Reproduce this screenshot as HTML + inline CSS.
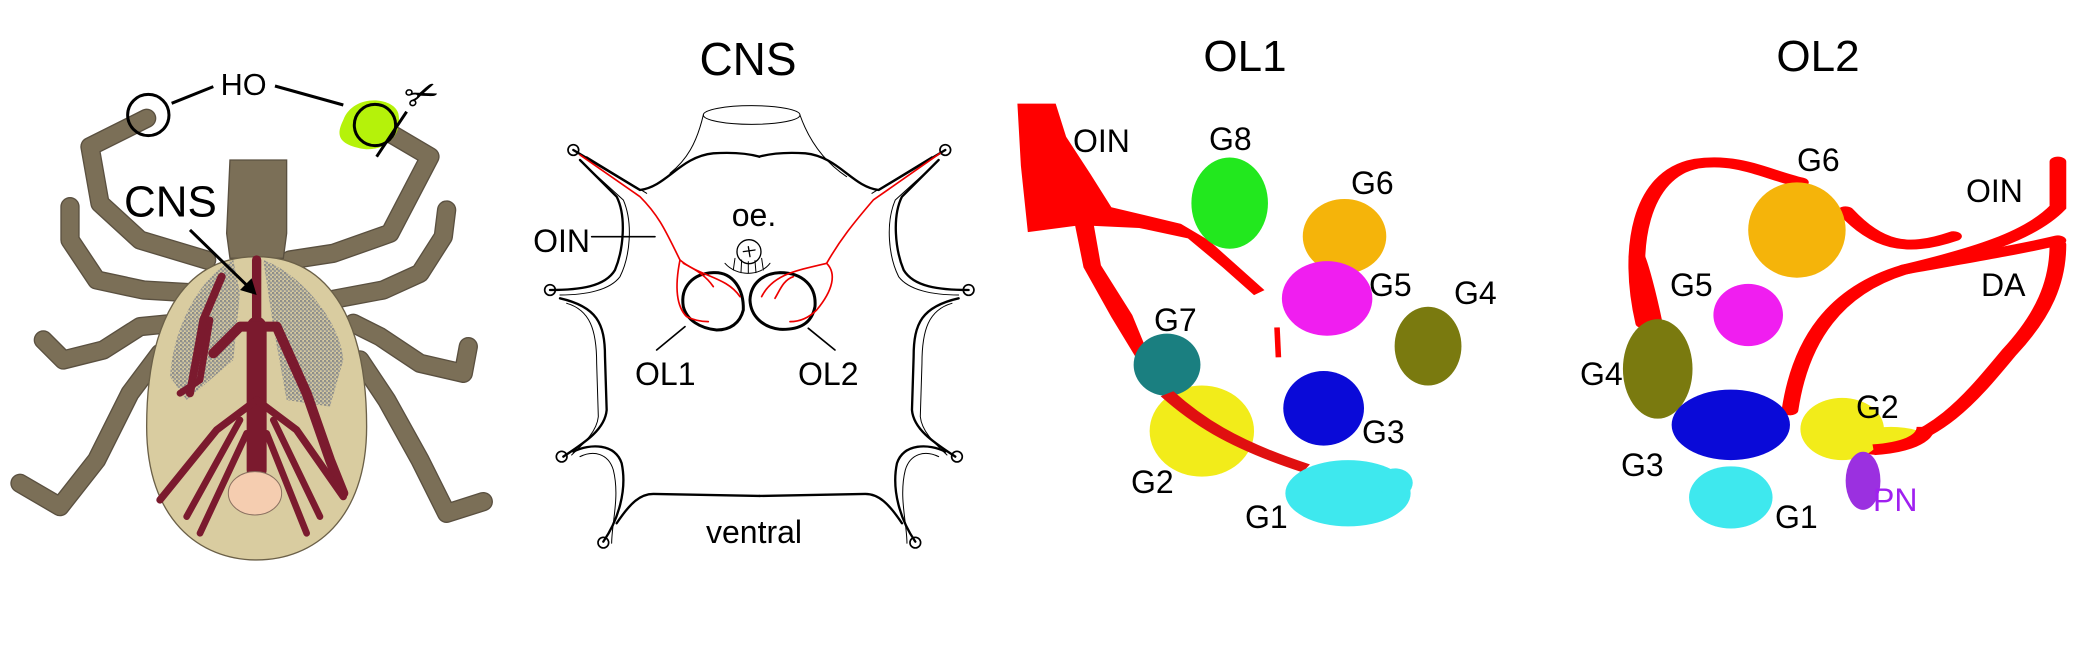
<!DOCTYPE html>
<html><head><meta charset="utf-8"><style>
html,body{margin:0;padding:0;background:#fff;}
svg{display:block;}
text{font-family:"Liberation Sans",sans-serif;fill:#000;}
</style></head><body>
<svg width="2091" height="650" viewBox="0 0 2091 650" xmlns="http://www.w3.org/2000/svg">
<defs>
<pattern id="dots" width="12" height="12" patternUnits="userSpaceOnUse">
<circle cx="3" cy="3" r="4" fill="#8e8e8a"/><circle cx="9" cy="9" r="4" fill="#9a9a95"/>
</pattern>
</defs>

<!-- TICK (zoom3 coords) -->
<g transform="translate(0,60) scale(0.3333)">
 <g fill="none" stroke-linecap="round" stroke-linejoin="round">
  <g stroke="#5a5040" stroke-width="58">
   <polyline points="620,600 420,540 300,430 270,260 440,175"/>
   <polyline points="870,600 1000,580 1170,520 1290,290 1120,190"/>
   <polyline points="600,700 430,690 290,660 210,540 210,440"/>
   <polyline points="990,720 1150,690 1260,640 1330,530 1340,450"/>
   <polyline points="520,790 420,800 310,870 190,900 130,840"/>
   <polyline points="1060,790 1140,830 1260,910 1390,940 1405,860"/>
   <polyline points="480,880 390,1000 290,1200 180,1340 60,1270"/>
   <polyline points="1080,900 1160,1020 1260,1200 1340,1360 1450,1325"/>
  </g>
  <g stroke="#7b6f57" stroke-width="50">
   <polyline points="620,600 420,540 300,430 270,260 440,175"/>
   <polyline points="870,600 1000,580 1170,520 1290,290 1120,190"/>
   <polyline points="600,700 430,690 290,660 210,540 210,440"/>
   <polyline points="990,720 1150,690 1260,640 1330,530 1340,450"/>
   <polyline points="520,790 420,800 310,870 190,900 130,840"/>
   <polyline points="1060,790 1140,830 1260,910 1390,940 1405,860"/>
   <polyline points="480,880 390,1000 290,1200 180,1340 60,1270"/>
   <polyline points="1080,900 1160,1020 1260,1200 1340,1360 1450,1325"/>
  </g>
 </g>
 <polygon points="690,300 860,300 860,520 850,595 690,595 680,520" fill="#7b6f57" stroke="#5a5040" stroke-width="4"/>
 <path d="M770,590 C1000,590 1100,800 1100,1100 C1100,1380 940,1500 770,1500 C600,1500 440,1380 440,1100 C440,800 540,590 770,590Z" fill="#d9cca0" stroke="#6b6048" stroke-width="4"/>
 <path d="M700,600 C600,650 520,800 510,950 L560,1020 L700,900 L720,700Z" fill="url(#dots)"/>
 <path d="M790,600 C900,640 1020,780 1030,900 L990,1040 L860,1020 L820,800Z" fill="url(#dots)"/>
 <g fill="none" stroke="#7b1a2e" stroke-linecap="round" stroke-linejoin="round">
  <path d="M770,600 L770,800" stroke-width="28"/>
  <path d="M770,800 L770,1230" stroke-width="60"/>
  <path d="M665,650 L610,780 L570,1000" stroke-width="24"/>
  <path d="M640,880 L720,800 L830,800 L920,1000 L990,1200 L1030,1300" stroke-width="30"/>
  <path d="M630,780 L600,960 L540,1000" stroke-width="20"/>
  <path d="M770,1020 L650,1110 L480,1320" stroke-width="22"/>
  <path d="M720,1080 L560,1370" stroke-width="20"/>
  <path d="M740,1120 L600,1420" stroke-width="20"/>
  <path d="M770,1020 L890,1110 L1030,1310" stroke-width="22"/>
  <path d="M820,1080 L960,1370" stroke-width="20"/>
  <path d="M800,1120 L920,1420" stroke-width="20"/>
 </g>
 <ellipse cx="765" cy="1300" rx="80" ry="65" fill="#f5cdb0" stroke="#8a7060" stroke-width="3"/>
 <path d="M1030,180 C1060,100 1180,110 1195,160 C1210,230 1150,280 1080,265 C1010,250 1010,220 1030,180Z" fill="#b5f20a"/>
 <circle cx="445" cy="165" r="62" fill="none" stroke="#000" stroke-width="9"/>
 <circle cx="1125" cy="195" r="62" fill="none" stroke="#000" stroke-width="9"/>
 <g stroke="#000" stroke-width="9" fill="none">
  <line x1="515" y1="130" x2="640" y2="80"/>
  <line x1="825" y1="78" x2="1030" y2="135"/>
  <line x1="1130" y1="290" x2="1220" y2="155"/>
  <line x1="570" y1="510" x2="755" y2="690"/>
 </g>
 <polygon points="770,705 720,690 755,655" fill="#000"/>
 <text x="662" y="105" font-size="92" style="font-family:'Liberation Sans',sans-serif">HO</text>
 <text x="372" y="470" font-size="132" style="font-family:'Liberation Sans',sans-serif">CNS</text>
 <text x="1215" y="140" font-size="120" style="font-family:'DejaVu Sans',sans-serif" transform="rotate(-20 1280 100)">✂</text>
</g>

<!-- CNS panel (zoom4 coords) -->
<text x="748" y="75" font-size="46" text-anchor="middle">CNS</text>
<g transform="translate(540,90) scale(0.3333)" fill="none" stroke="#000" stroke-linecap="round" stroke-linejoin="round">
 <ellipse cx="635" cy="75" rx="145" ry="28" stroke-width="3"/>
 <path d="M490,75 C470,160 440,210 390,250 M780,75 C810,160 860,220 920,260" stroke-width="3"/>
 <g id="half">
  <path d="M100,180 L300,300 C380,290 420,200 520,190 C600,185 640,195 658,200" stroke-width="7"/>
  <path d="M120,210 L230,320 C260,380 250,480 225,540 C195,590 120,600 30,600" stroke-width="7"/>
  <path d="M60,625 C170,650 195,700 195,800 L200,960 C195,1020 130,1060 70,1100" stroke-width="7"/>
  <path d="M100,1085 C150,1060 225,1060 245,1120 C262,1200 235,1290 190,1355" stroke-width="7"/>
  <path d="M230,1300 C270,1240 300,1212 340,1212 L658,1218" stroke-width="7"/>
  <path d="M140,200 L320,310 M140,230 L250,330 C280,400 270,500 240,560 C210,600 140,615 60,615 M80,640 C150,660 170,720 170,820 L175,980 C170,1030 120,1070 95,1095 M120,1100 C160,1080 205,1090 220,1140 C240,1220 215,1300 215,1360" stroke-width="3"/>
  <circle cx="100" cy="180" r="16" stroke-width="5"/>
  <circle cx="30" cy="600" r="16" stroke-width="5"/>
  <circle cx="65" cy="1100" r="16" stroke-width="5"/>
  <circle cx="190" cy="1358" r="16" stroke-width="5"/>
 </g>
 <use href="#half" transform="translate(1316,0) scale(-1,1)"/>
 <path d="M520,548 C580,545 612,600 610,660 C600,700 570,720 530,720 C480,715 440,690 430,650 C420,590 460,550 520,548Z" stroke-width="9"/>
 <path d="M720,548 C790,548 830,590 825,650 C815,700 780,720 720,718 C670,712 632,680 630,630 C632,580 670,550 720,548Z" stroke-width="9"/>
 <circle cx="627" cy="485" r="36" stroke-width="4"/>
 <path d="M610,485 L645,480 M625,470 L630,500" stroke-width="4"/>
 <path d="M555,520 C590,560 660,560 690,520 M585,505 L580,540 M605,510 L603,548 M625,515 L625,550 M645,512 L648,548 M665,505 L670,540" stroke-width="3"/>
 <g stroke="#e00" stroke-width="5">
  <path d="M120,195 L300,320 C360,380 380,430 420,510 C480,560 560,560 600,620"/>
  <path d="M420,510 C410,560 400,640 440,680 C460,690 480,695 505,695"/>
  <path d="M430,520 C470,540 500,560 520,590"/>
  <path d="M1200,190 L1000,330 C940,400 900,450 860,520 C780,540 700,550 665,620"/>
  <path d="M860,520 C890,550 880,600 830,660 C800,690 770,695 750,695"/>
  <path d="M760,560 C730,570 720,600 705,625"/>
 </g>
 <path d="M155,440 L345,440 M350,780 L435,710 M805,715 L885,780" stroke-width="5"/>
</g>
<text x="590" y="252" font-size="32" text-anchor="end">OIN</text>
<text x="754" y="226" font-size="32" text-anchor="middle">oe.</text>
<text x="635" y="385" font-size="32">OL1</text>
<text x="798" y="385" font-size="32">OL2</text>
<text x="754" y="543" font-size="32" text-anchor="middle">ventral</text>

<!-- OL panels (zoom2 coords, anisotropic) -->
<g transform="matrix(0.696,0,0,0.4145,1000,0)">
 <polygon points="25,250 80,250 95,330 130,420 160,500 260,540 300,580 340,640 380,700 365,712 320,645 270,575 200,550 135,545 145,640 190,760 212,850 195,862 160,765 120,645 108,545 40,560 30,400" fill="#f00"/>
 <path d="M398,790 L400,862" stroke="#f00" stroke-width="8"/>
 <ellipse cx="330" cy="490" rx="55" ry="110" fill="#22e81e"/>
 <ellipse cx="495" cy="570" rx="60" ry="90" fill="#f5b40a"/>
 <ellipse cx="470" cy="720" rx="65" ry="90" fill="#f01ef0"/>
 <ellipse cx="615" cy="835" rx="48" ry="95" fill="#7a7a0f"/>
 <ellipse cx="290" cy="1040" rx="75" ry="110" fill="#f2ec1a"/>
 <ellipse cx="240" cy="880" rx="48" ry="75" fill="#1a7f80"/>
 <path d="M240,950 C280,1010 330,1070 440,1130" stroke="#e01010" stroke-width="22" fill="none"/>
 <ellipse cx="465" cy="985" rx="58" ry="90" fill="#0a0ad8"/>
 <ellipse cx="500" cy="1190" rx="90" ry="80" fill="#3ee8ee"/>
 <ellipse cx="568" cy="1165" rx="25" ry="35" fill="#3ee8ee"/>
 <g fill="none" stroke="#f00" stroke-width="24" stroke-linecap="round">
  <path d="M925,780 C900,600 920,420 1000,395 C1060,380 1100,420 1150,440"/>
  <path d="M940,780 C930,700 920,640 915,620"/>
  <path d="M1215,510 C1260,590 1300,610 1370,570"/>
  <path d="M1135,990 C1150,820 1200,700 1300,650 C1400,610 1480,570 1520,500 L1520,390"/>
  <path d="M1255,1085 C1350,1060 1400,950 1450,850 C1500,760 1520,680 1520,590"/>
  <path d="M1300,650 C1400,620 1470,600 1520,580"/>
 </g>
 <ellipse cx="1145" cy="555" rx="70" ry="115" fill="#f5b40a"/>
 <ellipse cx="1075" cy="760" rx="50" ry="75" fill="#f01ef0"/>
 <ellipse cx="945" cy="890" rx="50" ry="120" fill="#7a7a0f"/>
 <ellipse cx="1050" cy="1025" rx="85" ry="85" fill="#0a0ad8"/>
 <ellipse cx="1210" cy="1035" rx="60" ry="75" fill="#f2ec1a"/>
 <ellipse cx="1280" cy="1055" rx="50" ry="25" fill="#f2ec1a"/>
 <ellipse cx="1050" cy="1200" rx="60" ry="75" fill="#3ee8ee"/>
 <ellipse cx="1240" cy="1160" rx="25" ry="70" fill="#9b30e0"/>
 <path d="M1255,1085 C1300,1080 1330,1060 1330,1030" stroke="#f00" stroke-width="26" fill="none"/>
</g>
<text x="1245" y="71" font-size="44" text-anchor="middle">OL1</text>
<text x="1818" y="71" font-size="44" text-anchor="middle">OL2</text>
<g font-size="32">
<text x="1073" y="152">OIN</text>
<text x="1209" y="150">G8</text>
<text x="1351" y="194">G6</text>
<text x="1369" y="296">G5</text>
<text x="1454" y="304">G4</text>
<text x="1154" y="331">G7</text>
<text x="1362" y="443">G3</text>
<text x="1131" y="493">G2</text>
<text x="1245" y="528">G1</text>
<text x="1797" y="171">G6</text>
<text x="1966" y="202">OIN</text>
<text x="1981" y="296">DA</text>
<text x="1670" y="296">G5</text>
<text x="1580" y="385">G4</text>
<text x="1621" y="476">G3</text>
<text x="1856" y="418">G2</text>
<text x="1775" y="528">G1</text>
<text x="1873" y="511" style="fill:#a020f0">PN</text>
</g>
</svg>
</body></html>
